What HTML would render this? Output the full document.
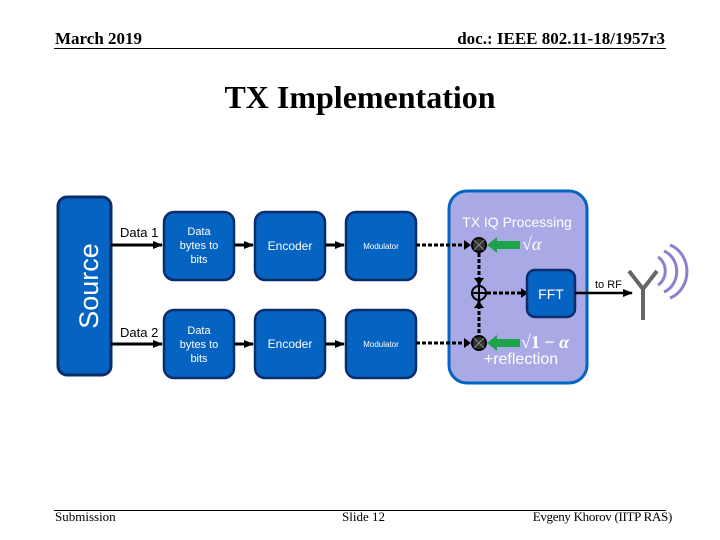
<!DOCTYPE html>
<html><head><meta charset="utf-8"><style>
body{margin:0;width:720px;height:540px;background:#fff;position:relative;overflow:hidden;font-family:"Liberation Sans",sans-serif}
.t{position:absolute;font-family:"Liberation Serif",serif;white-space:nowrap}
</style></head><body>
<div class="t" style="left:55px;top:29px;font-size:17px;font-weight:bold">March 2019</div>
<div class="t" style="right:55px;top:29px;font-size:17px;font-weight:bold">doc.: IEEE 802.11-18/1957r3</div>
<div style="position:absolute;left:54px;top:48px;width:612px;height:1px;background:#000"></div>
<div class="t" style="left:0;width:720px;top:79px;text-align:center;font-size:32px;font-weight:bold">TX Implementation</div>
<div style="position:absolute;left:54px;top:510px;width:612px;height:1px;background:#000"></div>
<div class="t" style="left:55px;top:509px;font-size:13px">Submission</div>
<div class="t" style="left:342px;top:509px;font-size:13px">Slide 12</div>
<div class="t" style="right:48px;top:509px;font-size:13px;letter-spacing:-0.3px">Evgeny Khorov (IITP RAS)</div>
<svg width="720" height="540" style="position:absolute;left:0;top:0" font-family="Liberation Sans,sans-serif">
<defs><marker id="a" markerUnits="userSpaceOnUse" markerWidth="10" markerHeight="10" refX="9" refY="5" orient="auto"><path d="M0,1L10,5L0,9z" fill="#000"/></marker></defs>
<rect x="58" y="197" width="53" height="178" rx="9" fill="#0563c1" stroke="#0b2d6b" stroke-width="3"/>
<text x="98" y="286" transform="rotate(-90 98 286)" text-anchor="middle" fill="#fff" font-size="27">Source</text>
<g fill="#0563c1" stroke="#0b2d6b" stroke-width="2.5">
<rect x="164" y="212" width="70" height="68" rx="10"/><rect x="255" y="212" width="70" height="68" rx="10"/><rect x="346" y="212" width="70" height="68" rx="10"/>
<rect x="164" y="310" width="70" height="68" rx="10"/><rect x="255" y="310" width="70" height="68" rx="10"/><rect x="346" y="310" width="70" height="68" rx="10"/>
</g>
<g stroke="#000" stroke-width="3" marker-end="url(#a)">
<line x1="111" y1="245" x2="162" y2="245"/><line x1="234" y1="245" x2="253" y2="245"/><line x1="325" y1="245" x2="344" y2="245"/>
<line x1="111" y1="344" x2="162" y2="344"/><line x1="234" y1="344" x2="253" y2="344"/><line x1="325" y1="344" x2="344" y2="344"/>
</g>
<text x="120" y="237" font-size="13">Data 1</text><text x="120" y="337" font-size="13">Data 2</text>
<g fill="#fff" text-anchor="middle" font-size="11">
<text x="199" y="235">Data</text><text x="199" y="249">bytes to</text><text x="199" y="263">bits</text>
<text x="199" y="334">Data</text><text x="199" y="348">bytes to</text><text x="199" y="362">bits</text>
<text x="290" y="250" font-size="12">Encoder</text><text x="290" y="348" font-size="12">Encoder</text>
<text x="381" y="249" font-size="8">Modulator</text><text x="381" y="347" font-size="8">Modulator</text>
</g>
<rect x="449" y="191" width="138" height="192" rx="18" fill="#a9a9e6" stroke="#0563c1" stroke-width="3"/>
<text x="517" y="227" text-anchor="middle" fill="#fff" font-size="14">TX IQ Processing</text>
<g stroke="#000" stroke-width="3" stroke-dasharray="4,2">
<line x1="416" y1="245" x2="470" y2="245"/><line x1="416" y1="343" x2="470" y2="343"/>
<line x1="479" y1="253" x2="479" y2="285"/><line x1="479" y1="333" x2="479" y2="301"/>
<line x1="487" y1="293" x2="522" y2="293"/>
</g>
<g fill="#000"><path d="M464,240L471,245L464,250z"/><path d="M464,338L471,343L464,348z"/><path d="M521,288L528,293L521,298z"/><path d="M474,278L479,285L484,278z"/><path d="M474,308L479,301L484,308z"/></g>
<g stroke="#000" stroke-width="2" fill="#333">
<circle cx="479" cy="245" r="7"/><circle cx="479" cy="343" r="7"/><circle cx="479" cy="293" r="7" fill="none"/>
<line x1="474" y1="240" x2="484" y2="250" stroke="#888" stroke-width="1"/><line x1="484" y1="240" x2="474" y2="250" stroke="#888" stroke-width="1"/>
<line x1="474" y1="338" x2="484" y2="348" stroke="#888" stroke-width="1"/><line x1="484" y1="338" x2="474" y2="348" stroke="#888" stroke-width="1"/>
<line x1="472" y1="293" x2="486" y2="293"/><line x1="479" y1="286" x2="479" y2="300"/>
</g>
<g fill="#1fa34a"><path d="M487,245L497,237V241H520V249H497V253z"/><path d="M487,343L497,335V339H520V347H497V351z"/></g>
<text x="522" y="250" fill="#fff" font-size="18" font-family="Liberation Serif,serif" font-style="italic">√α</text>
<text x="521" y="348" fill="#fff" font-size="18" font-family="Liberation Serif,serif" font-weight="bold">√1 − <tspan font-style="italic">α</tspan></text>
<text x="521" y="364" text-anchor="middle" fill="#fff" font-size="16">+reflection</text>
<rect x="527" y="270" width="48" height="47" rx="8" fill="#0563c1" stroke="#0b2d6b" stroke-width="2.5"/>
<text x="551" y="299" text-anchor="middle" fill="#fff" font-size="14">FFT</text>
<line x1="575" y1="293" x2="632" y2="293" stroke="#000" stroke-width="2.5" marker-end="url(#a)"/>
<text x="595" y="288" font-size="11">to RF</text>
<g stroke="#666" stroke-width="4" fill="none"><line x1="643" y1="287" x2="643" y2="320"/><line x1="643" y1="289" x2="629" y2="271"/><line x1="643" y1="289" x2="657" y2="271"/></g>
<g stroke="#8b7fd0" stroke-width="3" fill="none">
<path d="M658,257A14,16 0 0 1 658,285"/><path d="M664,251A20,22 0 0 1 664,292"/><path d="M670,245A25,28 0 0 1 670,298"/>
</g>
</svg>
</body></html>
